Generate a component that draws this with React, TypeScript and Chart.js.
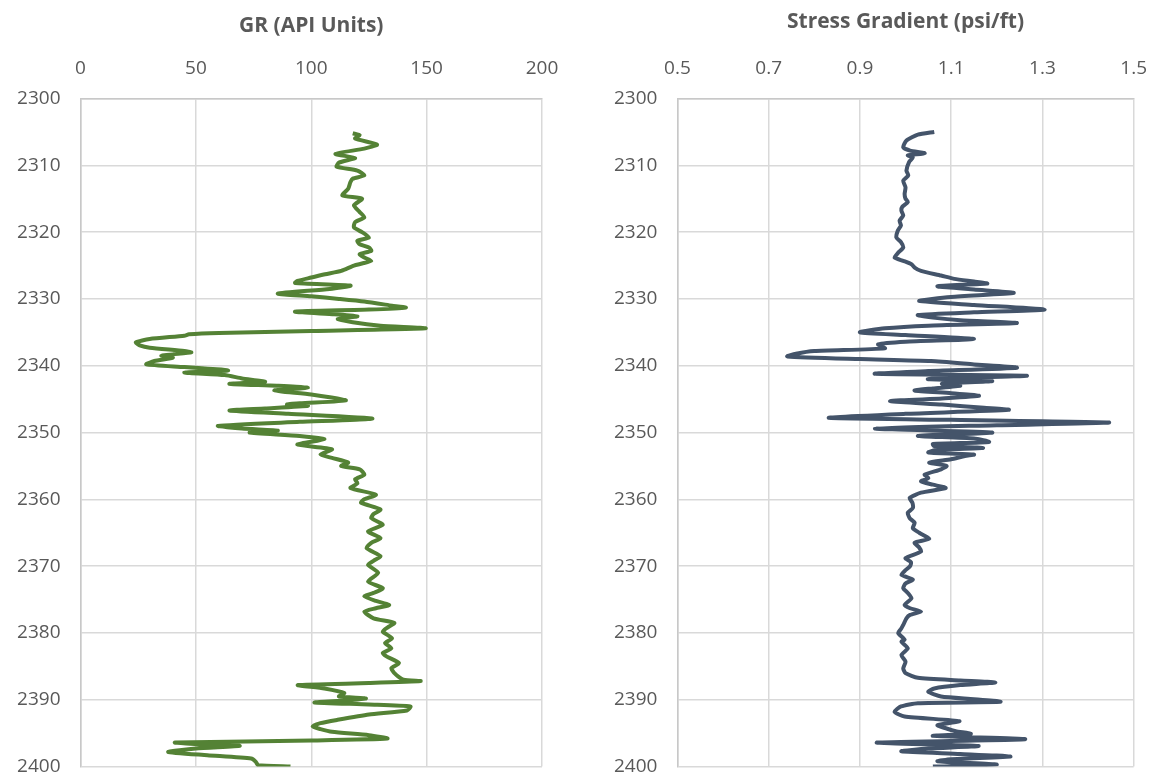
import React, { useEffect, useRef } from "react";
import { Chart, registerables } from "chart.js";
Chart.register(...registerables);

// ---- Data ----
const grDepth = [
  2305.2, 2305.5, 2306.0, 2306.9, 2307.5, 2308.3, 2308.9, 2309.6, 2310.2, 2310.8,
  2311.5, 2312.0, 2312.5, 2313.5, 2314.5, 2315.0, 2316.0, 2317.0, 2317.8, 2318.5,
  2319.3, 2320.0, 2320.8, 2321.3, 2321.8, 2322.3, 2322.8, 2323.3, 2323.8, 2324.3,
  2324.7, 2325.0, 2325.8, 2326.3, 2326.8, 2327.3, 2327.6, 2328.0, 2328.5, 2329.2,
  2329.6, 2330.0, 2330.4, 2331.0, 2331.3, 2331.6, 2331.9, 2332.3, 2332.6, 2333.0,
  2333.5, 2334.0, 2334.4, 2334.8, 2335.1, 2335.3, 2335.5, 2336.0, 2336.5, 2337.0,
  2337.3, 2337.8, 2338.0, 2338.3, 2338.5, 2338.8, 2339.3, 2339.8, 2340.2, 2340.7,
  2341.0, 2341.4, 2341.9, 2342.4, 2342.7, 2343.0, 2343.3, 2343.7, 2344.3, 2345.2,
  2345.6, 2345.8, 2346.0, 2346.4, 2346.7, 2347.2, 2347.9, 2348.4, 2349.0, 2349.4,
  2349.7, 2350.0, 2350.5, 2351.0, 2351.8, 2352.5, 2353.3, 2353.8, 2354.5, 2355.0,
  2355.5, 2356.3, 2357.0, 2357.6, 2358.3, 2359.3, 2360.0, 2360.5, 2361.5, 2362.2,
  2362.8, 2363.8, 2364.8, 2365.8, 2366.5, 2367.3, 2368.5, 2369.2, 2369.8, 2371.0,
  2372.3, 2373.3, 2374.0, 2374.5, 2375.2, 2375.8, 2376.3, 2376.8, 2377.8, 2378.5,
  2379.2, 2379.8, 2380.8, 2381.5, 2382.3, 2383.0, 2383.5, 2384.5, 2385.3, 2386.0,
  2386.5, 2387.0, 2387.2, 2387.5, 2387.8, 2388.3, 2389.0, 2389.5, 2389.8, 2390.1,
  2390.4, 2390.7, 2391.0, 2391.6, 2392.2, 2393.0, 2393.5, 2394.0, 2394.4, 2394.8,
  2395.3, 2395.8, 2396.1, 2396.4, 2396.7, 2396.9, 2397.3, 2397.8, 2398.3, 2398.8,
  2399.3, 2399.8, 2400.0,
];
const grValue = [
  118, 121, 119, 128.5, 123, 110.5, 119, 112, 111, 120,
  123, 118, 117, 116, 113.5, 122, 118.5, 121, 123, 119,
  118.5, 122, 125, 120, 121, 125, 126, 121, 123, 126,
  122, 118.5, 113, 106, 100, 94, 93, 117, 108, 85.5,
  100, 112, 123, 135, 141, 125, 93, 110, 120, 111.5,
  118, 130, 149.5, 100, 60, 47, 45, 30, 24, 26,
  30, 45, 48, 40, 35, 40, 32, 28.5, 45, 64,
  45, 62.5, 70, 80, 64.5, 85, 98.5, 84, 100, 115,
  95, 89.5, 98.6, 80, 64.6, 90, 126.5, 95, 59.6, 70,
  85.5, 73.3, 95, 105.7, 94, 109, 104, 109, 116, 113,
  121, 123, 119, 120, 117, 128, 123, 121.6, 130, 127,
  126, 131, 124.6, 130, 126, 124, 130, 127, 124.6, 129,
  124.6, 131, 127, 123, 128, 133.8, 128, 123, 127, 136,
  133, 131, 135, 132, 134.7, 131, 132.6, 138, 134.7, 136,
  137.6, 140, 147.4, 125, 94.2, 105.7, 114.3, 112, 123.7, 115,
  101.4, 125, 143, 141.5, 125, 111.4, 104, 100.6, 104, 109,
  125, 133, 100, 41, 55, 69, 50, 38, 55, 74,
  76, 77, 91,
];

const sgDepth = [
  2305.0, 2305.4, 2306.3, 2307.3, 2307.8, 2308.2, 2308.5, 2308.8, 2309.5, 2310.8,
  2311.5, 2312.3, 2313.3, 2314.3, 2315.0, 2315.5, 2316.2, 2316.8, 2317.5, 2318.3,
  2319.0, 2319.8, 2320.8, 2321.5, 2322.3, 2323.0, 2323.8, 2324.3, 2324.8, 2325.3,
  2325.8, 2326.5, 2327.0, 2327.4, 2327.7, 2328.1, 2328.6, 2329.1, 2329.7, 2330.3,
  2330.9, 2331.6, 2332.0, 2332.4, 2332.8, 2333.2, 2333.6, 2334.0, 2334.4, 2335.0,
  2335.4, 2336.0, 2336.4, 2336.8, 2337.4, 2337.8, 2338.2, 2338.6, 2339.0, 2339.3,
  2339.8, 2340.3, 2340.8, 2341.2, 2341.5, 2342.0, 2342.3, 2342.7, 2343.0, 2343.4,
  2343.7, 2344.1, 2344.5, 2344.9, 2345.3, 2345.8, 2346.3, 2346.6, 2347.2, 2347.8,
  2348.1, 2348.5, 2348.9, 2349.4, 2350.0, 2350.5, 2350.9, 2351.4, 2351.7, 2352.0,
  2352.3, 2352.6, 2353.0, 2353.3, 2353.5, 2354.0, 2354.5, 2355.0, 2355.5, 2356.3,
  2356.8, 2357.3, 2357.8, 2358.3, 2359.0, 2359.8, 2360.5, 2361.3, 2362.0, 2362.8,
  2363.5, 2364.3, 2365.0, 2365.9, 2366.5, 2367.2, 2367.8, 2368.8, 2369.4, 2370.0,
  2370.6, 2371.3, 2372.0, 2372.6, 2373.3, 2374.0, 2374.8, 2375.8, 2376.3, 2376.8,
  2377.3, 2377.8, 2378.8, 2379.4, 2380.0, 2381.0, 2381.3, 2382.3, 2383.3, 2384.3,
  2385.3, 2386.0, 2386.7, 2387.1, 2387.4, 2387.8, 2388.3, 2388.8, 2389.5, 2389.9,
  2390.3, 2390.5, 2391.0, 2391.8, 2392.5, 2393.2, 2393.8, 2394.3, 2394.7, 2395.1,
  2395.4, 2395.9, 2396.4, 2396.9, 2397.3, 2397.7, 2398.1, 2398.5, 2398.9, 2399.2,
  2399.7, 2400.0,
];
const sgValue = [
  1.063, 1.027, 1.002, 0.995, 1.01, 1.042, 1.005, 1.016, 1.008, 1.002,
  1.006, 0.995, 1.0, 0.998, 1.0, 1.005, 0.993, 0.991, 0.995, 0.987,
  0.99, 0.983, 0.98, 0.99, 0.995, 0.985, 0.976, 0.995, 1.013, 1.02,
  1.034, 1.078, 1.107, 1.15, 1.179, 1.07, 1.15, 1.237, 1.1, 1.03,
  1.15, 1.305, 1.15, 1.027, 1.06, 1.12, 1.244, 1.05, 0.955, 0.9,
  1.0, 1.15, 1.0, 0.94, 0.955, 0.8, 0.76, 0.741, 0.9, 1.056,
  1.15, 1.244, 1.05, 0.933, 1.266, 1.049, 1.19, 1.08, 1.12, 1.06,
  1.02, 1.1, 1.161, 1.08, 0.966, 1.08, 1.172, 1.226, 1.0, 0.832,
  1.1, 1.446, 1.2, 0.933, 1.19, 1.027, 1.15, 1.183, 1.06, 1.062,
  1.17, 1.065, 1.05, 1.15, 1.13, 1.1, 1.052, 1.09, 1.078, 1.042,
  1.05, 1.034, 1.06, 1.088, 1.034, 1.009, 1.015, 1.016, 1.005, 1.009,
  1.02, 1.016, 1.03, 1.052, 1.02, 1.03, 1.034, 1.0, 1.012, 1.01,
  1.0, 0.991, 1.016, 1.0, 0.995, 1.005, 1.013, 0.998, 1.01, 1.034,
  1.01, 1.002, 0.995, 0.99, 0.984, 0.998, 0.991, 1.005, 0.991, 1.0,
  0.995, 1.0, 1.027, 1.12, 1.197, 1.12, 1.063, 1.05, 1.078, 1.15,
  1.208, 1.027, 0.99, 0.976, 0.998, 1.118, 1.07, 1.09, 1.11, 1.143,
  1.06, 1.262, 0.937, 1.16, 1.05, 0.991, 1.12, 1.23, 1.1, 1.07,
  1.2, 1.06,
];

const depthTicks = [2300, 2310, 2320, 2330, 2340, 2350, 2360, 2370, 2380, 2390, 2400];
const depthTickLabels = ["2300", "2310", "2320", "2330", "2340", "2350", "2360", "2370", "2380", "2390", "2400"];
const grTicks = [0, 50, 100, 150, 200];
const grTickLabels = ["0", "50", "100", "150", "200"];
const sgTicks = [0.5, 0.7, 0.9, 1.1, 1.3, 1.5];
const sgTickLabels = ["0.5", "0.7", "0.9", "1.1", "1.3", "1.5"];

const TEXT = "#595959";
const GRID = "#d9d9d9";
const FONT = "'Open Sans', 'Noto Sans', sans-serif";

type Cfg = {
  depth: number[];
  values: number[];
  color: string;
  title: string;
  xTicks: number[];
  xLabels: string[];
  plotLeft: number;
  rightPad: number;
  titlePadTop: number;
};

function makeConfig(c: Cfg): any {
  return {
    type: "scatter",
    data: {
      datasets: [
        {
          data: c.depth.map((d, i) => ({ x: c.values[i], y: d })),
          showLine: true,
          borderColor: c.color,
          backgroundColor: c.color,
          borderWidth: 4,
          pointRadius: 0,
          tension: 0.2,
          fill: false,
        },
      ],
    },
    options: {
      animation: false,
      responsive: true,
      maintainAspectRatio: false,
      layout: { padding: { left: 0, right: c.rightPad, top: 0, bottom: 10 } },
      plugins: { legend: { display: false }, tooltip: { enabled: false } },
      scales: {
        x: {
          type: "linear",
          position: "top",
          min: c.xTicks[0],
          max: c.xTicks[c.xTicks.length - 1],
          afterBuildTicks: (s: any) => {
            s.ticks = c.xTicks.map((v) => ({ value: v }));
          },
          afterFit: (s: any) => {
            s.height = 98.5;
          },
          ticks: {
            callback: (_v: any, i: number) => c.xLabels[i],
            color: TEXT,
            font: { family: FONT, size: 19 },
            padding: 19,
            maxRotation: 0,
            autoSkip: false,
          },
          grid: { color: GRID, lineWidth: 1.5, drawTicks: false },
          border: { color: "#c8c8c8", width: 1.5 },
          title: {
            display: true,
            text: c.title,
            color: TEXT,
            font: { family: FONT, size: 21, weight: "bold" },
            padding: { top: c.titlePadTop, bottom: 0 },
          },
        },
        y: {
          type: "linear",
          reverse: true,
          min: depthTicks[0],
          max: depthTicks[depthTicks.length - 1],
          afterBuildTicks: (s: any) => {
            s.ticks = depthTicks.map((v) => ({ value: v }));
          },
          afterFit: (s: any) => {
            s.width = c.plotLeft;
          },
          ticks: {
            callback: (_v: any, i: number) => depthTickLabels[i],
            color: TEXT,
            font: { family: FONT, size: 19 },
            padding: 20,
            autoSkip: false,
          },
          grid: { color: GRID, lineWidth: 1.5, drawTicks: false },
          border: { color: "#c8c8c8", width: 1.5 },
        },
      },
    },
  };
}

function LogChart(props: { cfg: Cfg; left: number; width: number }) {
  const ref = useRef<HTMLCanvasElement | null>(null);
  useEffect(() => {
    if (!ref.current) return;
    const chart = new Chart(ref.current, makeConfig(props.cfg));
    return () => chart.destroy();
  }, []);
  return (
    <div
      style={{
        position: "absolute",
        left: props.left,
        top: 0,
        width: props.width,
        height: 798,
      }}
    >
      <canvas ref={ref} />
    </div>
  );
}

export default function App() {
  return (
    <div
      style={{
        position: "absolute",
        left: 0,
        top: 0,
        width: 1166,
        height: 776,
        background: "#ffffff",
        overflow: "hidden",
      }}
    >
      <LogChart
        left={0}
        width={583}
        cfg={{
          depth: grDepth,
          values: grValue,
          color: "#548235",
          title: "GR (API Units)",
          xTicks: grTicks,
          xLabels: grTickLabels,
          plotLeft: 80.5,
          rightPad: 41,
          titlePadTop: 13.5,
        }}
      />
      <LogChart
        left={583}
        width={583}
        cfg={{
          depth: sgDepth,
          values: sgValue,
          color: "#44546a",
          title: "Stress Gradient (psi/ft)",
          xTicks: sgTicks,
          xLabels: sgTickLabels,
          plotLeft: 94.4,
          rightPad: 28.5,
          titlePadTop: 9.5,
        }}
      />
    </div>
  );
}
